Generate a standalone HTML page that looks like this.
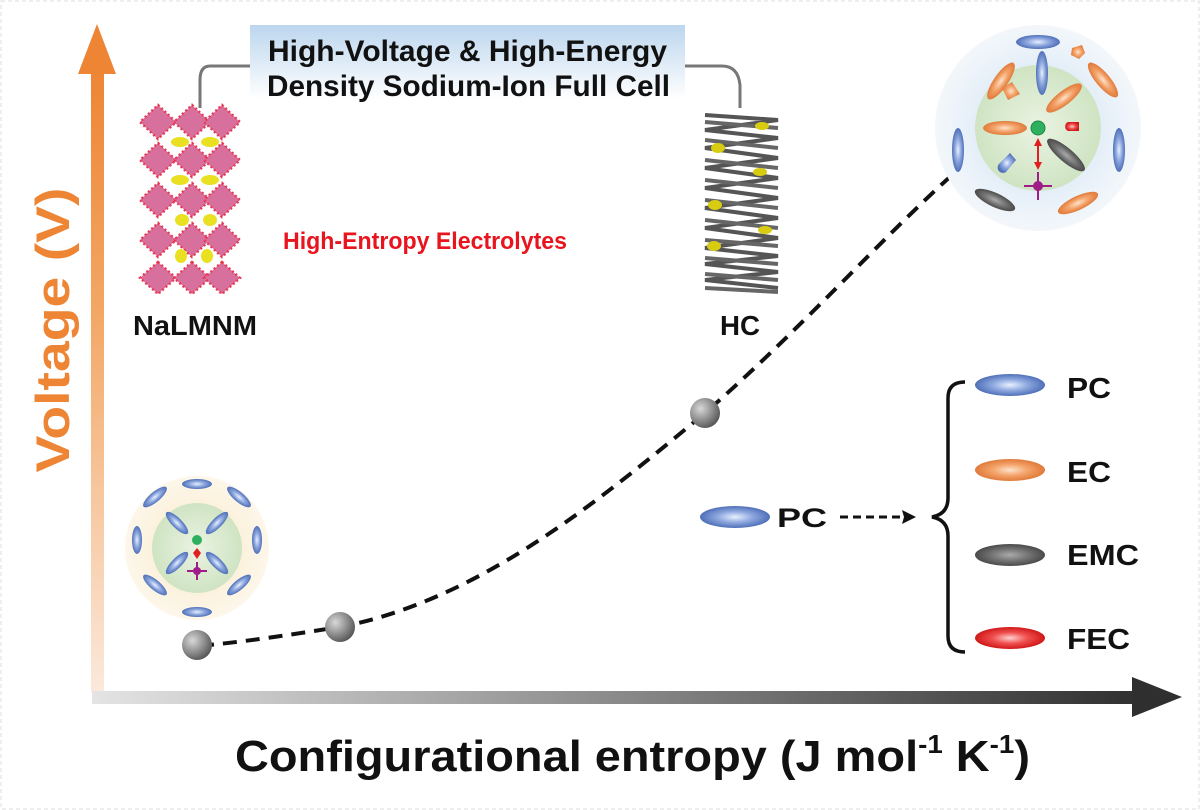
<!DOCTYPE html>
<html><head><meta charset="utf-8"><style>
html,body{margin:0;padding:0;background:#fff;}
svg{display:block;font-family:"Liberation Sans",Arial,sans-serif;font-weight:bold;}
</style></head><body>
<svg width="1200" height="810" viewBox="0 0 1200 810" xmlns="http://www.w3.org/2000/svg">
<defs>
<linearGradient id="vg" x1="0" y1="1" x2="0" y2="0">
<stop offset="0" stop-color="#fbe9dc"/><stop offset="0.6" stop-color="#f3a866"/><stop offset="1" stop-color="#ee8534"/></linearGradient>
<linearGradient id="hg" x1="0" y1="0" x2="1" y2="0">
<stop offset="0" stop-color="#e4e4e4"/><stop offset="0.5" stop-color="#8a8a8a"/><stop offset="1" stop-color="#2f2f2f"/></linearGradient>
<linearGradient id="bx" x1="0" y1="0" x2="0" y2="1">
<stop offset="0" stop-color="#bcd6ee"/><stop offset="1" stop-color="#ffffff"/></linearGradient>
<radialGradient id="ball" cx="0.35" cy="0.35" r="0.7"><stop offset="0" stop-color="#d8d8d8"/><stop offset="0.6" stop-color="#8a8a8a"/><stop offset="1" stop-color="#555"/></radialGradient>
<radialGradient id="blue" cx="0.5" cy="0.5" r="0.5"><stop offset="0" stop-color="#e8f0ff"/><stop offset="0.5" stop-color="#8fa9df"/><stop offset="1" stop-color="#4f6fb8"/></radialGradient>
<radialGradient id="org" cx="0.5" cy="0.5" r="0.5"><stop offset="0" stop-color="#fde3cc"/><stop offset="0.5" stop-color="#f4a46b"/><stop offset="1" stop-color="#e07a3a"/></radialGradient>
<radialGradient id="gry" cx="0.5" cy="0.5" r="0.5"><stop offset="0" stop-color="#aaa"/><stop offset="0.5" stop-color="#777"/><stop offset="1" stop-color="#4a4a4a"/></radialGradient>
<radialGradient id="red" cx="0.5" cy="0.5" r="0.5"><stop offset="0" stop-color="#ffd0d0"/><stop offset="0.5" stop-color="#f05050"/><stop offset="1" stop-color="#d01818"/></radialGradient>
<radialGradient id="bigb" cx="0.5" cy="0.5" r="0.5"><stop offset="0.6" stop-color="#e4eef8"/><stop offset="1" stop-color="#f3f7fb"/></radialGradient>
<radialGradient id="bigy" cx="0.5" cy="0.5" r="0.5"><stop offset="0.6" stop-color="#fbf1dc"/><stop offset="1" stop-color="#fdf7ea"/></radialGradient>
<radialGradient id="grn" cx="0.5" cy="0.5" r="0.5"><stop offset="0" stop-color="#eaf3e2"/><stop offset="1" stop-color="#cfe4c3"/></radialGradient>
</defs>
<rect x="1" y="1" width="1198" height="808" fill="#fff" stroke="#ddd" stroke-dasharray="4 3"/>

<!-- axes -->
<rect x="91" y="70" width="13" height="622" fill="url(#vg)"/>
<polygon points="97,24 78,74 116,74" fill="#ee8534"/>
<rect x="92" y="691" width="1050" height="13" fill="url(#hg)"/>
<polygon points="1182,697 1132,677 1132,717" fill="#2f2f2f"/>
<text transform="translate(69,330) rotate(-90)" text-anchor="middle" font-size="47" fill="#ee8534" textLength="285" lengthAdjust="spacingAndGlyphs">Voltage (V)</text>
<text x="235" y="771" font-size="44" fill="#111" textLength="795" lengthAdjust="spacingAndGlyphs">Configurational entropy (J mol<tspan font-size="26" dy="-18">-1</tspan><tspan dy="18"> K</tspan><tspan font-size="26" dy="-18">-1</tspan><tspan dy="18">)</tspan></text>

<!-- top box -->
<path d="M250,66 H210 Q200,66 200,80 V108" fill="none" stroke="#777" stroke-width="3"/>
<path d="M685,66 H722 Q738,66 740,85 V108" fill="none" stroke="#777" stroke-width="3"/>
<rect x="250" y="25" width="435" height="74" fill="url(#bx)"/>
<text x="268" y="61" font-size="30" fill="#111" textLength="399" lengthAdjust="spacingAndGlyphs">High-Voltage &amp; High-Energy</text>
<text x="267" y="96" font-size="30" fill="#111" textLength="403" lengthAdjust="spacingAndGlyphs">Density Sodium-Ion Full Cell</text>

<!-- crystal -->
<g>
<g fill="#d8709e" stroke="#e83a55" stroke-width="2.5" stroke-dasharray="2 2.5">
<polygon points="158,105 176,122 158,139 140,122"/><polygon points="192,105 210,122 192,139 174,122"/><polygon points="222,105 240,122 222,139 204,122"/>
<polygon points="158,143 176,160 158,177 140,160"/><polygon points="192,143 210,160 192,177 174,160"/><polygon points="222,143 240,160 222,177 204,160"/>
<polygon points="158,183 176,200 158,217 140,200"/><polygon points="192,183 210,200 192,217 174,200"/><polygon points="222,183 240,200 222,217 204,200"/>
<polygon points="158,223 176,240 158,257 140,240"/><polygon points="192,223 210,240 192,257 174,240"/><polygon points="222,223 240,240 222,257 204,240"/>
<polygon points="158,262 176,278 158,294 140,278"/><polygon points="192,262 210,278 192,294 174,278"/><polygon points="222,262 240,278 222,294 204,278"/>
</g>
<g fill="#e8e020">
<ellipse cx="180" cy="142" rx="9" ry="5"/><ellipse cx="210" cy="142" rx="9" ry="5"/>
<ellipse cx="180" cy="180" rx="9" ry="5"/><ellipse cx="210" cy="180" rx="9" ry="5"/>
<ellipse cx="182" cy="220" rx="7" ry="6"/><ellipse cx="210" cy="220" rx="7" ry="6"/>
<ellipse cx="181" cy="256" rx="6" ry="7"/><ellipse cx="207" cy="256" rx="6" ry="7"/>
</g>
</g>
<text x="133" y="335" font-size="28" fill="#111" textLength="124" lengthAdjust="spacingAndGlyphs">NaLMNM</text>

<!-- HC -->
<g fill="none" stroke="#555" stroke-width="4">
<path d="M705,115 L778,120 L705,130 L778,138 L705,148 L778,158 L705,168 L778,178 L705,188 L778,198 L705,208 L778,218 L705,228 L778,238 L705,248 L778,256 L705,264 L778,272 L705,280 L778,288"/>
<path d="M705,122 L778,128 M705,140 L778,148 M705,160 L778,168 M705,180 L778,188 M705,200 L778,208 M705,220 L778,228 M705,240 L778,246 M705,258 L778,264 M705,274 L778,280 M705,288 L778,292" stroke="#666"/>
</g>
<g fill="#d8cc10"><ellipse cx="762" cy="126" rx="7" ry="4"/><ellipse cx="718" cy="148" rx="7" ry="5"/><ellipse cx="760" cy="172" rx="7" ry="4"/><ellipse cx="715" cy="205" rx="7" ry="5"/><ellipse cx="765" cy="230" rx="7" ry="4"/><ellipse cx="714" cy="246" rx="7" ry="5"/></g>
<text x="720" y="335" font-size="28" fill="#111" textLength="40" lengthAdjust="spacingAndGlyphs">HC</text>

<text x="283" y="249" font-size="24" fill="#e8141e" textLength="284" lengthAdjust="spacingAndGlyphs">High-Entropy Electrolytes</text>

<!-- curve -->
<path d="M200,646 C260,640 300,633 340,627 C480,600 600,500 705,413 C800,330 880,240 952,175" fill="none" stroke="#111" stroke-width="4" stroke-dasharray="14 9"/>
<circle cx="197" cy="645" r="15" fill="url(#ball)"/>
<circle cx="340" cy="627" r="15" fill="url(#ball)"/>
<circle cx="705" cy="413" r="15" fill="url(#ball)"/>

<!-- top right solvation -->
<circle cx="1038" cy="128" r="103" fill="url(#bigb)"/>
<circle cx="1038" cy="128" r="63" fill="url(#grn)"/>
<g>
<ellipse cx="1038" cy="42" rx="22" ry="7" fill="url(#blue)"/>
<ellipse cx="1042" cy="73" rx="6" ry="22" fill="url(#blue)"/>
<ellipse cx="1005" cy="128" rx="22" ry="7" fill="url(#org)"/>
<ellipse cx="1064" cy="98" rx="22" ry="7" fill="url(#org)" transform="rotate(-38 1064 98)"/>
<ellipse cx="1066" cy="155" rx="24" ry="7" fill="url(#gry)" transform="rotate(40 1066 155)"/>
<ellipse cx="1001" cy="81" rx="22" ry="7" fill="url(#org)" transform="rotate(-55 1001 81)"/>
<ellipse cx="1103" cy="80" rx="22" ry="7" fill="url(#org)" transform="rotate(50 1103 80)"/>
<ellipse cx="958" cy="150" rx="6" ry="22" fill="url(#blue)"/>
<ellipse cx="1119" cy="150" rx="6" ry="22" fill="url(#blue)"/>
<ellipse cx="995" cy="200" rx="22" ry="7" fill="url(#gry)" transform="rotate(25 995 200)"/>
<ellipse cx="1078" cy="203" rx="22" ry="7" fill="url(#org)" transform="rotate(-25 1078 203)"/>
<path d="M1002,88 l10,-6 8,12 -12,6z" fill="url(#org)"/>
<path d="M1072,48 l10,-3 3,8 -6,6 -8,-4z" fill="url(#org)"/>
<path d="M1068,122 h11 v9 h-11 a5,5 0 0 1 0,-9z" fill="url(#red)"/>
<path d="M1000,163 l10,-10 6,7 -10,12 a5,5 0 0 1 -6,-9z" fill="url(#blue)"/>
<circle cx="1038" cy="128" r="7" fill="#2fb060" stroke="#1b8a40" stroke-width="1"/>
<path d="M1038,140 V168" stroke="#e02020" stroke-width="2"/>
<polygon points="1038,138 1034,146 1042,146" fill="#e02020"/><polygon points="1038,170 1034,162 1042,162" fill="#e02020"/>
<path d="M1038,172 V200 M1024,186 H1052" stroke="#a01c88" stroke-width="2"/>
<circle cx="1038" cy="186" r="5" fill="#a01c88"/>
</g>

<!-- bottom left solvation -->
<circle cx="197" cy="548" r="72" fill="url(#bigy)"/>
<circle cx="197" cy="548" r="45" fill="url(#grn)"/>
<g fill="url(#blue)">
<ellipse cx="197" cy="484" rx="15" ry="5"/><ellipse cx="197" cy="612" rx="15" ry="5"/>
<ellipse cx="137" cy="540" rx="5" ry="14"/><ellipse cx="257" cy="540" rx="5" ry="14"/>
<ellipse cx="155" cy="497" rx="15" ry="5" transform="rotate(-40 155 497)"/><ellipse cx="239" cy="497" rx="15" ry="5" transform="rotate(40 239 497)"/>
<ellipse cx="155" cy="585" rx="15" ry="5" transform="rotate(40 155 585)"/><ellipse cx="239" cy="585" rx="15" ry="5" transform="rotate(-40 239 585)"/>
<ellipse cx="177" cy="523" rx="15" ry="5" transform="rotate(45 177 523)"/><ellipse cx="217" cy="523" rx="15" ry="5" transform="rotate(-45 217 523)"/>
<ellipse cx="177" cy="563" rx="15" ry="5" transform="rotate(-45 177 563)"/><ellipse cx="217" cy="563" rx="15" ry="5" transform="rotate(45 217 563)"/>
</g>
<circle cx="197" cy="540" r="5" fill="#2fb060"/>
<path d="M197,548 l4,5 -4,6 -4,-6z" fill="#e02020"/>
<path d="M197,562 V580 M187,571 H207" stroke="#a01c88" stroke-width="2"/><circle cx="197" cy="571" r="4" fill="#a01c88"/>

<!-- legend -->
<ellipse cx="735" cy="517" rx="35" ry="11" fill="url(#blue)"/>
<text x="777" y="527" font-size="27" fill="#111" textLength="50" lengthAdjust="spacingAndGlyphs">PC</text>
<path d="M840,517 H905" stroke="#111" stroke-width="3" stroke-dasharray="8 5"/>
<polygon points="916,517 902,510 904,517 902,524" fill="#111"/>
<path d="M965,382 Q948,382 948,398 V498 Q948,514 932,517 Q948,520 948,536 V636 Q948,652 965,652" fill="none" stroke="#111" stroke-width="3.5"/>
<ellipse cx="1010" cy="385" rx="35" ry="11" fill="url(#blue)"/>
<ellipse cx="1010" cy="470" rx="35" ry="11" fill="url(#org)"/>
<ellipse cx="1010" cy="555" rx="35" ry="11" fill="url(#gry)"/>
<ellipse cx="1010" cy="638" rx="35" ry="11" fill="url(#red)"/>
<text x="1067" y="398" font-size="29" fill="#111" textLength="44" lengthAdjust="spacingAndGlyphs">PC</text>
<text x="1067" y="482" font-size="29" fill="#111" textLength="44" lengthAdjust="spacingAndGlyphs">EC</text>
<text x="1067" y="565" font-size="29" fill="#111" textLength="72" lengthAdjust="spacingAndGlyphs">EMC</text>
<text x="1067" y="649" font-size="29" fill="#111" textLength="63" lengthAdjust="spacingAndGlyphs">FEC</text>
</svg>
</body></html>
